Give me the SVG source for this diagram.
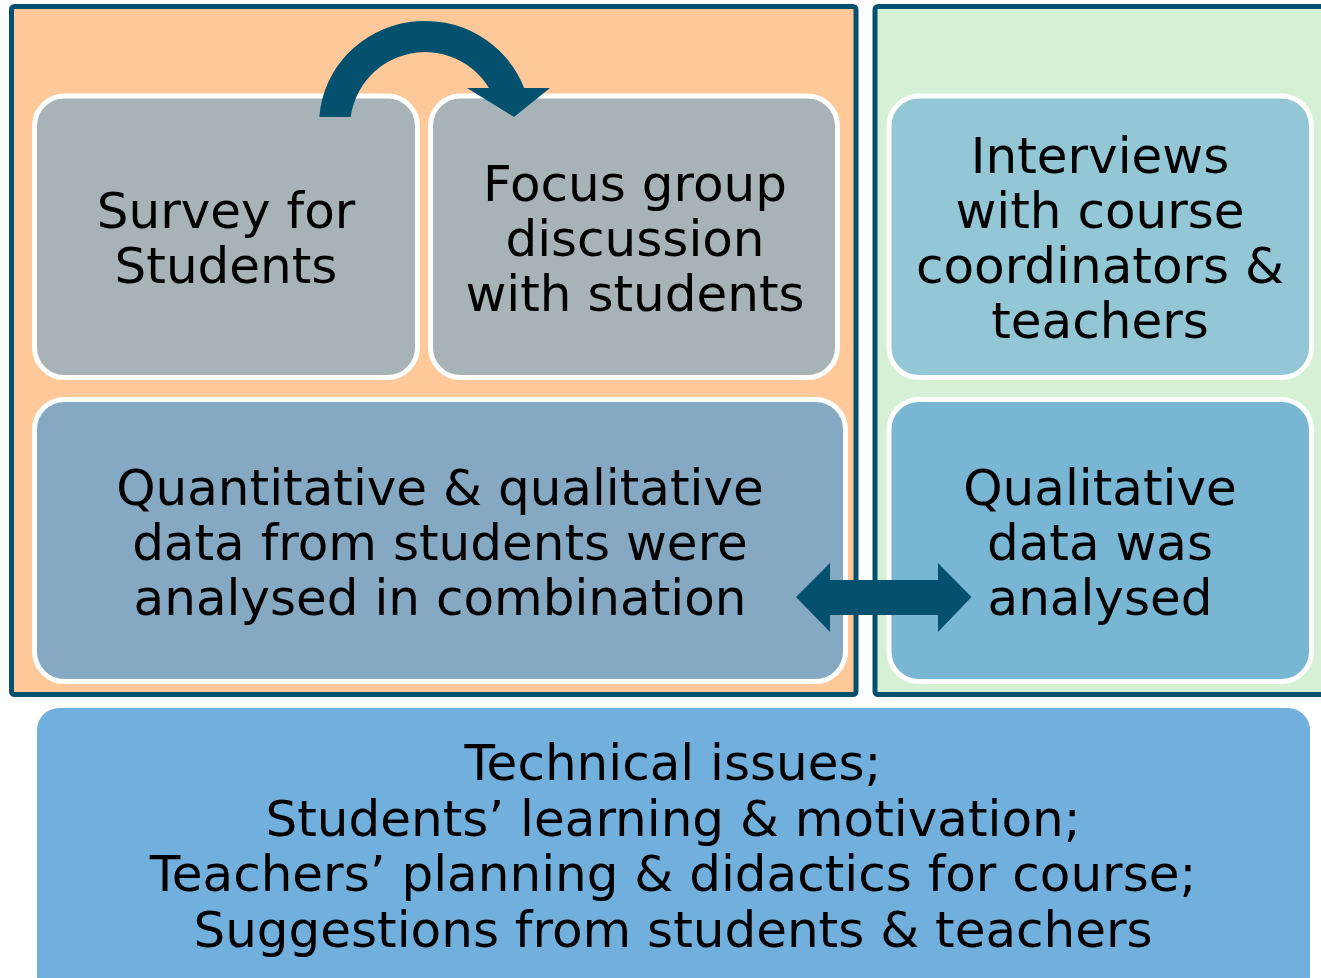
<svg xmlns="http://www.w3.org/2000/svg" width="1321" height="978" viewBox="0 0 1321 978">
<style>
.frame{stroke:#03506F;stroke-width:5}
.box{stroke:#FFFFFF;stroke-width:5}
.t{font-family:"DejaVu Sans","Verdana",sans-serif;font-size:50px;fill:#000;text-anchor:middle}
.arr{fill:#03506F}
</style>
<rect width="1321" height="978" fill="#FFFFFF"/>
<g id="containers">
<rect class="frame" x="11.5" y="6.5" width="844.5" height="688" rx="3" fill="#FEC898"/>
<rect class="frame" x="875" y="6.5" width="460" height="688" rx="3" fill="#D5F0D5"/>
</g>
<g id="survey">
<rect class="box" x="34.5" y="96" width="383" height="281.5" rx="30" fill="#A8B3B8"/>
<text class="t" x="226" y="228">Survey for</text>
<text class="t" x="226" y="283">Students</text>
</g>
<g id="focus">
<rect class="box" x="430.5" y="96" width="407" height="281.5" rx="30" fill="#A8B3B8"/>
<text class="t" x="635" y="201">Focus group</text>
<text class="t" x="635" y="256">discussion</text>
<text class="t" x="635" y="311">with students</text>
</g>
<g id="interviews">
<rect class="box" x="889" y="96" width="422.5" height="281.5" rx="30" fill="#93C7D5"/>
<text class="t" x="1100" y="173">Interviews</text>
<text class="t" x="1100" y="228">with course</text>
<text class="t" x="1100" y="283">coordinators &amp;</text>
<text class="t" x="1100" y="338">teachers</text>
</g>
<g id="quant">
<rect class="box" x="34.5" y="399.5" width="811" height="282" rx="30" fill="#86A9C3"/>
<text class="t" x="440" y="505">Quantitative &amp; qualitative</text>
<text class="t" x="440" y="560">data from students were</text>
<text class="t" x="440" y="615">analysed in combination</text>
</g>
<g id="qualitative">
<rect class="box" x="889" y="399.5" width="422.5" height="282" rx="30" fill="#78B6D3"/>
<text class="t" x="1100" y="505">Qualitative</text>
<text class="t" x="1100" y="560">data was</text>
<text class="t" x="1100" y="615">analysed</text>
</g>
<g id="themes">
<rect x="37" y="708" width="1273" height="290" rx="22" fill="#71AFDD"/>
<text class="t" x="673" y="780">Technical issues;</text>
<text class="t" x="673" y="836">Students’ learning &amp; motivation;</text>
<text class="t" x="673" y="891">Teachers’ planning &amp; didactics for course;</text>
<text class="t" x="673" y="947">Suggestions from students &amp; teachers</text>
</g>
<g id="connectors">
<path class="arr" d="M319.3,117 A106,104 0 0 1 524.1,88 L550,88 L514,117 L467,88 L489,88 A75,75 0 0 0 350.7,117 Z"/>
<path class="arr" d="M796,597 L830,563 L830,580 L938,580 L938,563 L971.5,597 L938,632 L938,615 L830,615 L830,632 Z"/>
</g>
</svg>
